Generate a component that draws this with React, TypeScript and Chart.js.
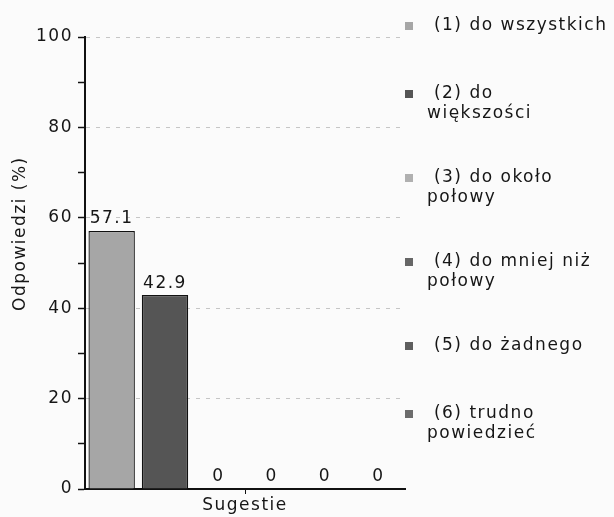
import React, { useEffect, useRef } from "react";
import { Chart, registerables } from "chart.js";

Chart.register(...registerables);

// ---- Data ----
const categories = ["Sugestie"];
const seriesNames: string[][] = [
  [" (1) do wszystkich"],
  [" (2) do", "większości"],
  [" (3) do około", "połowy"],
  [" (4) do mniej niż", "połowy"],
  [" (5) do żadnego"],
  [" (6) trudno", "powiedzieć"],
];
const seriesValues = [57.1, 42.9, 0, 0, 0, 0];
const seriesColors = ["#a6a6a6", "#555555", "#b0b0b0", "#666666", "#5e5e5e", "#6c6c6c"];
const yTickValues = [0, 20, 40, 60, 80, 100];
const yTitle = "Odpowiedzi (%)";

const FONT = "DejaVu Sans";
const TEXT = "#161616";

const spacingPlugin = {
  id: "letterSpacing",
  beforeUpdate(chart: any) {
    chart.ctx.letterSpacing = "1.5px";
  },
  beforeDraw(chart: any) {
    chart.ctx.letterSpacing = "1.5px";
  },
};

const labelsPlugin = {
  id: "extraText",
  afterDatasetsDraw(chart: any) {
    const ctx = chart.ctx;
    ctx.save();
    ctx.letterSpacing = "1.5px";
    ctx.font = `17px "${FONT}"`;
    ctx.fillStyle = TEXT;
    ctx.textAlign = "center";
    ctx.textBaseline = "middle";
    chart.data.datasets.forEach((ds: any, i: number) => {
      const meta = chart.getDatasetMeta(i);
      meta.data.forEach((el: any, j: number) => {
        const v = ds.data[j];
        ctx.fillText(String(v), el.x, el.y - 12);
      });
    });
    ctx.restore();
  },
  afterDraw(chart: any) {
    const ctx = chart.ctx;
    const area = chart.chartArea;
    ctx.save();
    ctx.letterSpacing = "1.5px";
    ctx.font = `17px "${FONT}"`;
    ctx.fillStyle = TEXT;
    // y axis title
    ctx.save();
    ctx.translate(area.left - 64, area.top + (area.bottom - area.top) * 0.435);
    ctx.rotate(-Math.PI / 2);
    ctx.textAlign = "center";
    ctx.textBaseline = "middle";
    ctx.fillText(yTitle, 0, 0);
    ctx.restore();
    // legend
    ctx.textAlign = "left";
    ctx.textBaseline = "middle";
    let y = area.top - 11;
    seriesNames.forEach((lines, i) => {
      ctx.fillStyle = seriesColors[i];
      ctx.fillRect(area.right, y - 4, 8, 8);
      ctx.fillStyle = TEXT;
      lines.forEach((ln, k) => ctx.fillText(ln, area.right + 22, y + k * 19.5));
      y += 52 + 16 * lines.length;
    });
    ctx.restore();
  },
};

export default function App() {
  const ref = useRef<HTMLCanvasElement | null>(null);

  useEffect(() => {
    if (!ref.current) return;
    const chart = new Chart(ref.current, {
      type: "bar",
      data: {
        labels: categories,
        datasets: seriesValues.map((v, i) => ({
          label: seriesNames[i].join(" ").trim(),
          data: [v],
          backgroundColor: seriesColors[i],
          borderColor: "#111",
          borderWidth: 1.3,
          categoryPercentage: 1.0,
          barPercentage: 0.87,
        })),
      },
      options: {
        animation: false,
        responsive: false,
        layout: { padding: { left: 0, right: 209, top: 37, bottom: 0 } },
        plugins: {
          legend: { display: false },
          tooltip: { enabled: false },
        },
        scales: {
          x: {
            grid: {
              display: true,
              offset: false,
              drawOnChartArea: false,
              drawTicks: true,
              tickLength: 5,
              color: "#111",
              tickColor: "#111",
            },
            border: { display: true, color: "#111", width: 2 },
            ticks: {
              color: TEXT,
              font: { family: FONT, size: 17, lineHeight: 1.0 },
              padding: 3,
            },
          },
          y: {
            min: 0,
            max: 100,
            afterFit: (s: any) => {
              s.width = 85;
            },
            afterBuildTicks: (s: any) => {
              const t: any[] = [];
              for (let v = 0; v <= 100; v += 10) t.push({ value: v });
              s.ticks = t;
            },
            ticks: {
              autoSkip: false,
              color: TEXT,
              font: { family: FONT, size: 17 },
              padding: 5,
              callback: (v: any) => (yTickValues.includes(Number(v)) ? String(v) : ""),
            },
            grid: {
              color: (c: any) =>
                c.tick && c.tick.value % 20 === 0 && c.tick.value !== 0 ? "#c6c6c6" : "rgba(0,0,0,0)",
              tickColor: "#111",
              tickLength: 7,
              tickWidth: 1.5,
              tickBorderDash: [],
            },
            border: { display: true, color: "#111", width: 2, dash: [4, 6] },
          },
        },
      },
      plugins: [spacingPlugin, labelsPlugin],
    });
    return () => chart.destroy();
  }, []);

  return (
    <div style={{ position: "fixed", left: 0, top: 0, width: 614, height: 517, background: "#fbfbfb" }}>
      <canvas ref={ref} width={614} height={517} style={{ display: "block" }} />
    </div>
  );
}
